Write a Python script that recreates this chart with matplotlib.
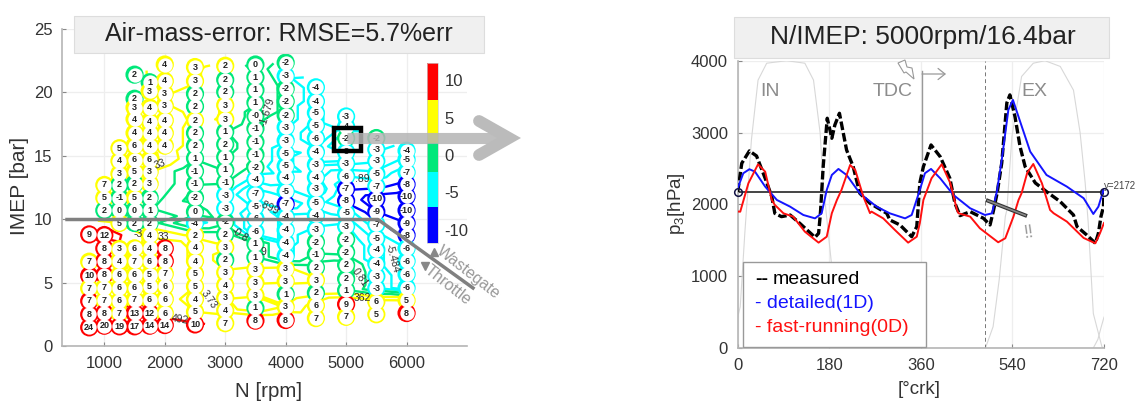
# -*- coding: utf-8 -*-
import numpy as np
import matplotlib
matplotlib.use('Agg')
import matplotlib.pyplot as plt
import matplotlib.tri as mtri
from matplotlib.cm import ScalarMappable
from matplotlib.colors import BoundaryNorm, ListedColormap
from matplotlib.patches import Rectangle

plt.rcParams['font.family'] = ['Liberation Sans', 'DejaVu Sans']
plt.rcParams['axes.unicode_minus'] = False
plt.rcParams['mathtext.default'] = 'regular'

# left map: one pair of lists per engine speed
imep_750 = [8.8, 6.65, 5.55, 4.55, 3.55, 2.5, 1.47]
err_750 = [9, 7, 10, 7, 7.45, 8, 24]
imep_1000 = [12.7, 11.7, 10.7, 8.75, 7.7, 6.7, 5.6, 4.6, 3.6, 2.6, 1.6]
err_1000 = [7, 5, 2, 12, 8, 8, 8, 7, 7, 8, 20]
imep_1250 = [15.6, 14.6, 13.6, 12.7, 11.7, 10.7, 9.7, 7.65, 6.7, 5.6, 4.6, 3.55, 2.6, 1.55]
err_1250 = [5, 4, 3, 2, -1, 0, 5, 3, 4, 6, 6, 6, 7, 19]
imep_1500 = [21.4, 19.5, 18.8, 17.9, 16.8, 15.8, 14.7, 13.75, 12.8, 11.7, 10.7, 9.7, 7.7, 6.7, 5.6, 4.6, 3.65, 2.6, 1.55]
err_1500 = [2, 2, 3, 4, 4, 6, 6, 5, 2, 5, 0, 2, 6, 7, 6, 6, 7, 13, 17]
imep_1750 = [20.8, 20.1, 18.8, 17.7, 16.8, 15.8, 14.7, 13.75, 12.8, 11.7, 10.7, 9.7, 8.75, 7.7, 6.7, 5.6, 4.7, 3.65, 2.6, 1.6]
err_1750 = [1, 3, 4, 4, 4, 4, 6, 3, 3, 2, 1, 2, 4, 4, 6, 5, 5, 6, 12, 14]
imep_2000 = [22.2, 20.9, 19.9, 18.95, 17.8, 16.8, 15.8, 7.7, 6.7, 5.7, 4.7, 3.7, 2.6, 1.65]
err_2000 = [4, 4, 3, 3, 4, 4, 4, 8, 8, 7, 6, 6, 6, 14]
imep_2500 = [22.0, 20.9, 19.9, 18.9, 17.8, 16.8, 15.8, 14.8, 13.8, 12.8, 11.7, 10.6, 9.7, 8.75, 7.8, 6.7, 5.7, 4.7, 3.7, 2.7, 1.7]
err_2500 = [3, 3, 2, 2, 2.4, 2, 2, 1, -1, -1, -2, 0, -4, 2.4, 4, 4, 5, 5, 4, 5, 10]
imep_3000 = [22.1, 21.0, 20.05, 19.0, 17.9, 16.9, 15.9, 14.9, 13.9, 12.9, 11.9, 10.85, 9.8, 8.8, 7.8, 6.8, 5.8, 4.8, 3.8, 2.8, 1.8]
err_3000 = [2.4, 2, 2, 3, 3, 1, 2, 1, 1, -1, -3, -3, -2, 2, 3, 2, 3, 4, 3, 4, 7]
imep_3500 = [22.2, 21.2, 20.2, 19.2, 18.15, 17.15, 16.1, 15.1, 14.1, 13.15, 12.0, 11.0, 10.05, 9.0, 8.05, 7.0, 6.05, 5.0, 4.0, 3.0, 2.0]
err_3500 = [0, 1, 1, 1, -0.4, -1, -1, -1, -2, -4, -7, -5, -6, -6, 1, 1, 3, 3, 3, 1, 8]
imep_4000 = [22.35, 21.3, 20.3, 19.3, 18.2, 17.25, 16.2, 15.2, 14.2, 13.3, 12.2, 11.2, 10.2, 9.15, 8.15, 7.1, 6.1, 5.1, 4.1, 3.1, 2.05]
err_4000 = [-2, -3, -2, -2, -2, -3, -3, -5, -5, -4, -5, -7.2, -4, -4, -4, -4, 3, 3, 1, 3, 8]
imep_4500 = [20.4, 19.3, 18.4, 17.4, 16.4, 15.3, 14.3, 13.3, 12.4, 11.3, 10.3, 9.2, 8.2, 7.25, 6.2, 5.2, 4.2, 3.2, 2.2]
err_4500 = [-4, -4, -5, -5, -6, -4, -3, -4, -3, -5, -4, -3, -2, -1, 2, 3, 2, 6, 7]
imep_5000 = [18.1, 17.3, 16.4, 15.3, 14.4, 13.4, 12.4, 11.45, 10.5, 9.45, 8.4, 7.4, 6.4, 5.3, 4.4, 3.3, 2.3]
err_5000 = [-3, -4, -2, -3, -3, -6, -7.2, -8, -5, -3, -2, -2, 2, 2, 1, 9, 7]
imep_5500 = [16.4, 15.5, 14.6, 13.6, 12.6, 11.6, 10.6, 9.6, 8.5, 7.6, 6.5, 5.5, 4.55, 3.5, 2.5]
err_5500 = [-2, -3, -3, -5, -7, -10, -9, -7, -5, -4, -4, -3, -3, 6, 5]
imep_6000 = [15.4, 14.7, 13.7, 12.75, 11.8, 10.7, 9.7, 8.75, 7.7, 6.7, 5.65, 4.6, 3.6, 2.6]
err_6000 = [-4, -5, -7, -8, -10, -10, -9, -8, -6, -6, -6, -6, 5, 8]

speeds = [750, 1000, 1250, 1500, 1750, 2000, 2500, 3000, 3500, 4000, 4500, 5000, 5500, 6000]
imep_cols = [imep_750, imep_1000, imep_1250, imep_1500, imep_1750, imep_2000, imep_2500,
             imep_3000, imep_3500, imep_4000, imep_4500, imep_5000, imep_5500, imep_6000]
err_cols = [err_750, err_1000, err_1250, err_1500, err_1750, err_2000, err_2500,
            err_3000, err_3500, err_4000, err_4500, err_5000, err_5500, err_6000]

band_colors = ['#0000ff', '#00ffff', '#00e87a', '#ffff00', '#ff0000']
bar_bounds = [-11.75, -7, -2.2, 1.55, 7.4, 12.3]
bar_ticks = [-10, -5, 0, 5, 10]
ring_bounds = [-30, -7, -2.5, 2.3, 7.4, 30]
contour_levels = [-9, -7.5, -6, -4.5, -3.2, -1.2, 0.8, 2.8, 5, 9, 15]

# right plot: crank angle traces
deg_meas = [0, 8, 23, 37, 54, 67, 73, 86, 103, 122, 152, 159, 162, 163, 168, 176, 185, 191, 200, 214, 227, 240, 260, 293,
            299, 319, 342, 352, 358, 365, 380, 398, 417, 427, 437, 457, 483, 496, 503, 510, 519, 529, 535, 545, 555, 565,
            585, 607, 634, 660, 667, 686, 703, 709, 714, 719, 720]
p_meas = [2172, 2572, 2744, 2674, 2363, 2107, 1875, 1829, 1852, 1736, 1541, 1597, 1829, 1922, 2525, 3199, 2920, 3106, 3268, 2757, 2525, 2154, 2015, 1875,
          1783, 1713, 1550, 1690, 2298, 2525, 2827, 2664, 2363, 2015, 1843, 1898, 1806, 1713, 1922, 2159, 2576, 3412, 3524, 3222, 2804, 2525,
          2298, 2177, 2038, 1852, 1690, 1574, 1458, 1597, 1829, 1968, 2172]
deg_1d = [0, 11, 23, 34, 54, 77, 103, 129, 152, 165, 175, 185, 198, 214, 240, 273, 299, 329, 342, 358, 368, 380, 398, 424,
          457, 486, 500, 510, 519, 532, 541, 555, 575, 607, 647, 680, 699, 709, 719, 720]
p_1d = [2224, 2433, 2489, 2455, 2247, 2061, 1968, 1852, 1805, 1875, 2200, 2409, 2493, 2409, 2154, 1968, 1875, 1805, 1852, 2200, 2433, 2493, 2363, 2131,
        1945, 1852, 1875, 2200, 2618, 3315, 3454, 3156, 2734, 2409, 2247, 2085, 1866, 1968, 2200, 2172]
deg_0d = [0, 5, 21, 40, 54, 67, 73, 90, 109, 132, 159, 175, 185, 195, 204, 221, 231, 247, 260, 263, 286, 309, 335, 352, 358,
          365, 381, 401, 418, 431, 434, 457, 476, 512, 526, 542, 552, 558, 569, 581, 598, 614, 621, 647, 680, 703, 712, 720]
p_0d = [1900, 1898, 2293, 2558, 2455, 2061, 1992, 1875, 1829, 1620, 1467, 1550, 1876, 2061, 2200, 2549, 2479, 2107, 1878, 1899, 1805, 1643, 1467, 1550, 1739,
        2061, 2363, 2558, 2293, 1922, 1876, 1829, 1667, 1472, 1528, 1829, 2061, 2155, 2437, 2562, 2293, 1922, 1876, 1760, 1532, 1458, 1597, 1740]
deg_in = [0, 5, 14, 20, 27, 40, 57, 96, 132, 149, 162, 168, 178, 185, 201, 219]
lift_in = [430, 575, 1600, 2200, 2900, 3730, 3965, 4000, 3965, 3730, 2995, 2300, 1600, 1130, 390, 0]
deg_in_tail = [699, 708, 714, 720]
lift_in_tail = [0, 120, 280, 430]
deg_ex = [487, 502, 514, 526, 529, 539, 558, 581, 604, 634, 660, 673, 683, 689, 699, 716, 720]
lift_ex = [0, 297, 950, 1830, 1920, 2940, 3780, 3965, 4000, 3920, 3590, 3000, 2300, 1740, 480, 15, 0]
p_ref = 2172
deg_evo = 487
deg_tdc = 363

W, H = 1145., 401.
fig = plt.figure(figsize=(11.45, 4.01), dpi=100)


def rect(x0, y0, x1, y1):
    return [x0 / W, 1 - y1 / H, (x1 - x0) / W, (y1 - y0) / H]


def style_axes(ax):
    for s in ['top', 'right']:
        ax.spines[s].set_visible(False)
    for s in ['left', 'bottom']:
        ax.spines[s].set_color('#b5b5b5')
        ax.spines[s].set_linewidth(1.2)
    ax.tick_params(direction='in', length=3, width=0.8, color='#888888', labelcolor='#333333', labelsize=12, pad=7)
    ax.grid(True, color='#eeeeee', lw=0.9)
    ax.set_axisbelow(True)


# ---- left map
ax1 = fig.add_axes(rect(62, 29, 467, 346))
style_axes(ax1)
cmap = ListedColormap(band_colors)
ring_norm = BoundaryNorm(ring_bounds, cmap.N)

rpm = np.concatenate([[n] * len(c) for n, c in zip(speeds, err_cols)]).astype(float)
imep = np.concatenate(imep_cols)
err = np.concatenate(err_cols)

tri = mtri.Triangulation(rpm / 500., imep)
edges = np.hypot(np.diff(tri.x[tri.triangles], axis=1, append=tri.x[tri.triangles][:, :1]),
                 np.diff(tri.y[tri.triangles], axis=1, append=tri.y[tri.triangles][:, :1]))
tri.set_mask(edges.max(axis=1) > 2.6)
ax1.tricontour(tri.x * 500., tri.y, tri.triangles, np.clip(err, -12, 14), levels=contour_levels, cmap=cmap, norm=ring_norm,
               linewidths=1.7, mask=tri.mask, zorder=2)

# colored discs first, all white centres after, so that touching rings merge into chains
ax1.scatter(rpm, imep, s=172, c=err, cmap=cmap, norm=ring_norm, linewidths=0, zorder=3)
ax1.scatter(rpm, imep, s=106, c='white', linewidths=0, zorder=3.5)
for x, y, v in zip(rpm, imep, err):
    ax1.text(x, y, '%.0f' % v, ha='center', va='center', fontsize=6.5, fontweight='bold', color='#222222', zorder=4)

ax1.set_xlim(300, 7000)
ax1.set_ylim(0, 25)
ax1.set_xticks([1000, 2000, 3000, 4000, 5000, 6000])
ax1.set_yticks([0, 5, 10, 15, 20, 25])
ax1.set_xlabel('N [rpm]', fontsize=14.8, color='#333333', va='center')
ax1.set_ylabel('IMEP [bar]', fontsize=15, color='#333333', va='center')
ax1.xaxis.set_label_coords(0.509, -0.145)
ax1.yaxis.set_label_coords(-0.104, 0.505)

cax = fig.add_axes(rect(426.7, 63, 437.7, 243))
cbar_norm = BoundaryNorm(bar_bounds, cmap.N)
cb = fig.colorbar(ScalarMappable(norm=cbar_norm, cmap=cmap), cax=cax, spacing='proportional', ticks=bar_ticks)
cb.ax.tick_params(length=0, labelsize=12, labelcolor='#333333', pad=5)
cb.ax.minorticks_off()
cb.outline.set_edgecolor('#cccccc')
cb.outline.set_linewidth(0.5)

# ---- right trace plot
ax2 = fig.add_axes(rect(737.7, 60.7, 1104, 348))
style_axes(ax2)
ax2.plot(deg_in, lift_in, color='#d8d8d8', lw=0.8, zorder=1)
ax2.plot(deg_in_tail, lift_in_tail, color='#d8d8d8', lw=0.8, zorder=1)
ax2.plot(deg_ex, lift_ex, color='#d8d8d8', lw=0.8, zorder=1)
ax2.plot([0, 720], [p_ref, p_ref], color='#444444', lw=1.4, zorder=2)
ax2.plot([deg_evo, deg_evo], [0, 4000], color='#777777', lw=0.7, ls=(0, (4, 3)), zorder=2)
ax2.plot([deg_tdc, deg_tdc], [2620, 3860], color='#999999', lw=1.0, zorder=2)
ax2.plot(deg_meas, p_meas, color='black', lw=2.4, ls=(0, (2.6, 0.9)), zorder=3)
ax2.plot(deg_1d, p_1d, color='#1414ff', lw=1.4, zorder=4)
ax2.plot(deg_0d, p_0d, color='#ff1010', lw=1.4, zorder=4)
ax2.plot([0, 720], [p_ref, p_ref], ls='none', marker='o', ms=5.5, mfc='none', mec='#111144', mew=1.1, clip_on=False, zorder=5)
ax2.set_xlim(0, 720)
ax2.set_ylim(0, 4000)
ax2.set_xticks([0, 180, 360, 540, 720])
ax2.set_yticks([0, 1000, 2000, 3000, 4000])
ax2.set_xlabel('[°crk]', fontsize=13.5, color='#333333', va='center')
ax2.set_ylabel('p$_3$[hPa]', fontsize=13.5, color='#333333', va='center')
ax2.xaxis.set_label_coords(0.495, -0.146)
ax2.yaxis.set_label_coords(-0.166, 0.501)

# ---- everything pasted on top, in pixel coordinates
over = fig.add_axes([0, 0, 1, 1], zorder=10)
over.set_xlim(0, W)
over.set_ylim(H, 0)
over.axis('off')

over.add_patch(Rectangle((74, 16), 410, 37, fc='#f0f0f0', ec='#dddddd', lw=0.8))
over.add_patch(Rectangle((734, 17), 375, 41, fc='#f0f0f0', ec='#dddddd', lw=0.8))
over.text(278.5, 34, 'Air-mass-error: RMSE=5.7%err', ha='center', va='center', fontsize=18, color='#222222')
over.text(923, 37, 'N/IMEP: 5000rpm/16.4bar', ha='center', va='center', fontsize=19, color='#222222')

# big arrow from the marked operating point
over.plot([347, 509], [138, 138], color='#b4b4b4', lw=8, alpha=0.85, solid_capstyle='butt')
over.plot([479, 509, 479], [121, 138, 155], color='#bbbbbb', lw=8.5, solid_capstyle='round', solid_joinstyle='miter')
over.add_patch(Rectangle((333.5, 128), 27, 22.5, fc='none', ec='black', lw=3.2))

# wastegate / throttle line
over.plot([67, 378, 473], [219.5, 219.5, 288], color='#808080', lw=2.5, solid_joinstyle='round')
over.text(468, 272, 'Wastegate', rotation=-38, rotation_mode='anchor', ha='center', va='center', fontsize=11.5, color='#999999')
over.text(448, 285, 'Throttle', rotation=-38, rotation_mode='anchor', ha='center', va='center', fontsize=11.5, color='#999999')
over.plot([434], [252], marker='^', ms=6, color='#888888', ls='none')
over.plot([425], [266], marker='v', ms=6, color='#888888', ls='none')

# contour labels
for tx, ty, s, r in [(160, 164, '33', 20), (267, 112, '-1.679', 72), (138, 234, '-3', 0), (163, 237, '33', 0),
                     (240, 235, '-0.8', -35), (263, 252, '9', 0), (209, 300, '3.73', -55), (180, 320, '492', -10),
                     (269, 208, '.899', -25), (360, 278, '0.81', -55), (362, 298, '362', 0), (392, 258, '-5.484', -75),
                     (362, 179, '.89', 0)]:
    over.text(tx, ty, s, rotation=r, ha='center', va='center', fontsize=7.5, color='#333333')

# annotations of the trace plot
over.text(770, 91, 'IN', ha='center', va='center', fontsize=14, color='#8c8c8c')
over.text(893, 91, 'TDC', ha='center', va='center', fontsize=14, color='#8c8c8c')
over.text(1034, 92, 'EX', ha='center', va='center', fontsize=14, color='#8c8c8c')
over.text(1029, 233, '!!', ha='center', va='center', fontsize=13, color='#999999', rotation=8)
over.text(1104, 186, 'y=2172', ha='left', va='center', fontsize=7, color='#444444')
over.fill([898, 905, 907, 912, 914, 906, 904, 898], [63, 60, 67, 68, 79, 72, 73, 63], fc='white', ec='#999999', lw=0.8)
over.annotate('', xy=(946, 74), xytext=(922, 74), arrowprops=dict(arrowstyle='->,head_length=0.5,head_width=0.4', color='#999999', lw=0.9, shrinkA=0, shrinkB=0))
over.plot([986, 1027], [200, 216], color='#333333', lw=2.8, solid_capstyle='butt')
over.plot([987, 1026], [200.4, 215.6], color='#888888', lw=1.2, solid_capstyle='butt')

# legend
over.add_patch(Rectangle((742.7, 261.7), 183.3, 85, fc='white', ec='#999999', lw=1))
over.text(755, 279.5, '--', ha='left', va='center', fontsize=14, fontweight='bold', color='black')
over.text(773, 279.5, 'measured', ha='left', va='center', fontsize=14, color='black')
over.text(755, 304, '- detailed(1D)', ha='left', va='center', fontsize=14, color='#1414ff')
over.text(755, 328, '- fast-running(0D)', ha='left', va='center', fontsize=14, color='#ff1010')

fig.savefig('out.png', dpi=100)
